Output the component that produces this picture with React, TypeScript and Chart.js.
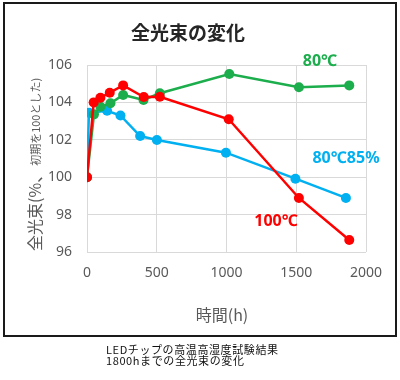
import React, { useEffect, useRef } from "react";
import { Chart, registerables } from "chart.js";

Chart.register(...registerables);

const redHours = [0, 48, 96, 163, 259, 407, 522, 1016, 1519, 1880];
const redValues = [100, 104.0, 104.25, 104.52, 104.91, 104.29, 104.3, 103.1, 98.89, 96.64];
const greenHours = [0, 50, 96, 168, 259, 405, 522, 1020, 1519, 1880];
const greenValues = [100, 103.36, 103.77, 103.95, 104.4, 104.13, 104.49, 105.52, 104.81, 104.91];
const blueHours = [0, 14, 144, 240, 381, 501, 996, 1494, 1856];
const blueValues = [100, 103.45, 103.55, 103.3, 102.2, 101.99, 101.31, 99.92, 98.89];

const title = "全光束の変化";
const xTitle = "時間(h)";
const yTitleMain = "全光束(%、";
const yTitleSub = "初期を100とした)";
const seriesNames = ["100℃", "80℃", "80℃85%"];
const captionLines = ["LEDチップの高温高湿度試験結果", "1800hまでの全光束の変化"];

const RED = "#FF0000";
const GREEN = "#1CAD4C";
const BLUE = "#00B0F0";
const NUMF = "'Noto Sans', sans-serif";
const CJK = "'Noto Sans CJK JP', sans-serif";

const toPts = (xs: number[], ys: number[]) => xs.map((x, i) => ({ x, y: ys[i] }));

const textPlugin = {
  id: "texts",
  afterDraw(chart: any) {
    const ctx = chart.ctx as CanvasRenderingContext2D;
    ctx.save();
    // title
    ctx.fillStyle = "#262626";
    ctx.font = `bold 19px ${CJK}`;
    ctx.textAlign = "center";
    ctx.textBaseline = "middle";
    ctx.fillText(title, 188, 33);
    // x title
    ctx.fillStyle = "#595959";
    ctx.font = `16px ${CJK}`;
    ctx.fillText(xTitle, 222, 315);
    // y title
    ctx.save();
    ctx.translate(35, 251);
    ctx.rotate(-Math.PI / 2);
    ctx.textAlign = "left";
    ctx.font = `16px ${CJK}`;
    ctx.fillText(yTitleMain, 0, 0);
    const w = ctx.measureText(yTitleMain).width;
    ctx.font = `11px ${CJK}`;
    ctx.fillText(yTitleSub, w + 1, 1);
    ctx.restore();
    // series labels
    ctx.font = `bold 16px ${NUMF}`;
    ctx.textAlign = "center";
    ctx.fillStyle = GREEN;
    ctx.fillText(seriesNames[1], 320, 61);
    ctx.fillStyle = BLUE;
    ctx.fillText(seriesNames[2], 346, 158);
    ctx.fillStyle = RED;
    ctx.fillText(seriesNames[0], 276, 221);
    ctx.restore();
  },
};

export default function App() {
  const ref = useRef<HTMLCanvasElement | null>(null);
  useEffect(() => {
    if (!ref.current) return;
    const mk = (label: string, color: string, xs: number[], ys: number[]) => ({
      label,
      data: toPts(xs, ys),
      borderColor: color,
      backgroundColor: color,
      borderWidth: 2.5,
      pointRadius: 5,
      pointHoverRadius: 5,
      pointBorderWidth: 0,
      tension: 0,
    });
    const chart = new Chart(ref.current, {
      type: "line",
      data: {
        datasets: [
          mk(seriesNames[0], RED, redHours, redValues),
          mk(seriesNames[1], GREEN, greenHours, greenValues),
          mk(seriesNames[2], BLUE, blueHours, blueValues),
        ],
      },
      options: {
        animation: false,
        responsive: false,
        layout: { padding: { left: 0, right: 34, top: 65, bottom: 0 } },
        plugins: { legend: { display: false }, title: { display: false }, tooltip: { enabled: false } },
        scales: {
          x: {
            type: "linear",
            min: 0,
            max: 2000,
            ticks: {
              stepSize: 500,
              padding: 13,
              color: "#595959",
              font: { family: NUMF, size: 14 },
              callback: (v: any) => String(v),
            },
            grid: { color: "#D9D9D9", drawTicks: false, lineWidth: 1 },
            border: { display: false },
            afterFit: (s: any) => {
              s.height = 88;
            },
          },
          y: {
            min: 96,
            max: 106,
            ticks: {
              stepSize: 2,
              padding: 15,
              color: "#595959",
              font: { family: NUMF, size: 14 },
              callback: (v: any) => String(v),
            },
            grid: { color: "#D9D9D9", drawTicks: false, lineWidth: 1 },
            border: { display: false },
            afterFit: (s: any) => {
              s.width = 87;
            },
          },
        },
      },
      plugins: [textPlugin],
    });
    return () => chart.destroy();
  }, []);
  return (
    <div style={{ position: "absolute", left: 0, top: 0, width: 400, height: 380, background: "#fff" }}>
      <canvas ref={ref} width={400} height={340} style={{ position: "absolute", left: 0, top: 0 }} />
      <div
        style={{
          position: "absolute",
          left: 3,
          top: 2,
          width: 394,
          height: 335,
          boxSizing: "border-box",
          border: "2px solid #1a1a1a",
          pointerEvents: "none",
        }}
      />
      <div
        style={{
          position: "absolute",
          left: 106,
          top: 344,
          fontFamily: CJK,
          fontSize: 11,
          lineHeight: "11px",
          letterSpacing: "0.6px",
          color: "#111",
          whiteSpace: "pre",
        }}
      >
        {captionLines.join("\n")}
      </div>
    </div>
  );
}
